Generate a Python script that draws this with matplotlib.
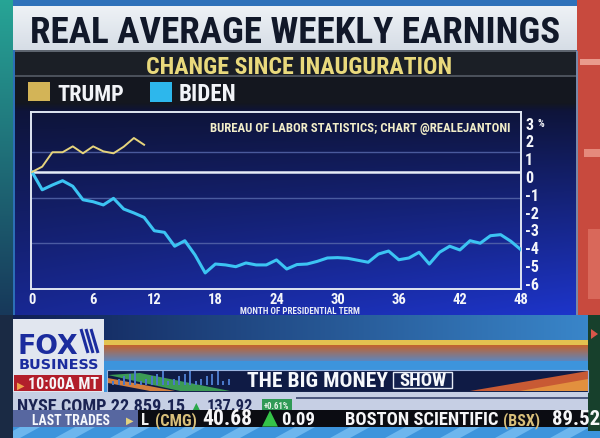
import numpy as np
import matplotlib
matplotlib.use('Agg')
import matplotlib.pyplot as plt
from matplotlib import font_manager as fm
from matplotlib.patches import Rectangle, Polygon
from matplotlib.transforms import ScaledTranslation

# ---------------- data ----------------
months_trump = list(range(12))
trump = [0, 0.30, 1.11, 1.11, 1.44, 1.05, 1.44, 1.16, 1.05, 1.42, 1.91, 1.53]
months_biden = list(range(49))
biden = [0, -1.00, -0.73, -0.49, -0.80, -1.56, -1.67, -1.85, -1.48, -2.08,
         -2.30, -2.55, -3.30, -3.39, -4.17, -3.86, -4.66, -5.67, -5.17, -5.22,
         -5.32, -5.11, -5.22, -5.22, -4.94, -5.45, -5.20, -5.17, -5.02, -4.83,
         -4.81, -4.85, -4.96, -5.07, -4.61, -4.44, -4.93, -4.83, -4.51, -5.17,
         -4.51, -4.17, -4.38, -3.86, -4.00, -3.58, -3.52, -3.89, -4.37]
x_ticks = [0, 6, 12, 18, 24, 30, 36, 42, 48]
y_ticks = [3, 2, 1, 0, -1, -2, -3, -4, -5, -6]
y_tick_labels = ["3", "2", "1", "0", "-1", "-2", "-3", "-4", "-5", "-6"]
grid_levels = [1.1, -1.45, -4.0]
series_names = ["TRUMP", "BIDEN"]
title = "REAL AVERAGE WEEKLY EARNINGS"
subtitle = "CHANGE SINCE INAUGURATION"
source = "BUREAU OF LABOR STATISTICS; CHART @REALEJANTONI"
xlabel = "MONTH OF PRESIDENTIAL TERM"

# ---------------- fonts ----------------
names = {f.name for f in fm.fontManager.ttflist}
if 'Liberation Sans Narrow' in names:
    NARROW = 'Liberation Sans Narrow'
elif 'Roboto Condensed' in names:
    NARROW = 'Roboto Condensed'
else:
    NARROW = 'Roboto'
FAM = [NARROW, 'DejaVu Sans']

W, H = 600, 439
fig = plt.figure(figsize=(6, 4.39), dpi=100)
fig.patch.set_facecolor('#2c6fb6')
bg = fig.add_axes([0, 0, 1, 1])
bg.axis('off')


def hexc(h):
    h = h.lstrip('#')
    return np.array([int(h[i:i + 2], 16) for i in (0, 2, 4)]) / 255.0


def rect(x0, y0, x1, y1, c, z=1, **kw):
    bg.add_patch(Rectangle((x0, y0), x1 - x0, y1 - y0, facecolor=c, lw=0, zorder=z, **kw))


def grad_img(x0, y0, x1, y1, func, z=0.5):
    ys = np.arange(y0, y1) + 0.5
    xs = np.arange(x0, x1) + 0.5
    Y, X = np.meshgrid(ys, xs, indexing='ij')
    img = func(X, Y)
    bg.imshow(np.clip(img, 0, 1), extent=(x0, x1, y1, y0), origin='upper',
              aspect='auto', zorder=z, interpolation='bilinear')


fig.canvas.draw()
R = fig.canvas.get_renderer()


def T(x, y, s, width=None, size=10, color='white', ha='left', va='baseline',
      family=None, weight='bold', z=6, clip=None):
    t = bg.text(x, y, s, fontsize=size, color=color, ha=ha, va=va,
                family=family or FAM, fontweight=weight, zorder=z)
    if width:
        w = t.get_window_extent(renderer=R).width
        t.set_fontsize(size * width / w)
    if clip is not None:
        t.set_clip_path(clip)
    return t


# ---------------- outer photo surroundings ----------------
rect(0, 0, 600, 8, '#2f72ba', z=0.2)
grad_img(0, 0, 13, 316, lambda X, Y: (hexc('#27a596')[None, None, :] * (1 - Y[..., None] / 316)
                                      + hexc('#17385a')[None, None, :] * (Y[..., None] / 316)), z=0.3)
rect(577, 0, 600, 316, '#c84a3e', z=0.3)
rect(580, 60, 600, 66, '#e99a8c', z=0.35)
rect(584, 150, 600, 158, '#e58a7c', z=0.35)
rect(588, 230, 600, 300, '#d9685a', z=0.35)

# title banner
grad_img(13, 7, 577, 51, lambda X, Y: (hexc('#eef2f6')[None, None, :] * (1 - (Y[..., None] - 7) / 44)
                                       + hexc('#d6dde6')[None, None, :] * ((Y[..., None] - 7) / 44)), z=0.5)
# subtitle strip
rect(15, 51, 576, 77, '#1b1f26', z=0.6)
rect(15, 51, 576, 52.5, '#5d646e', z=0.7)
rect(15, 76, 576, 77.5, '#4a505a', z=0.7)


# chart panel gradient
def panel(X, Y):
    leg = hexc('#14171f')
    top = hexc('#0e1439')
    bot = hexc('#182893')
    t = np.clip((Y - 110) / (316 - 110), 0, 1)[..., None]
    u = ((X - 15) / 562)[..., None]
    navy = top * (1 - t) + bot * t + u * t * np.array([0.02, 0.05, 0.22])
    b = np.clip((Y - 104) / 8.0, 0, 1)[..., None]
    return leg * (1 - b) + navy * b


grad_img(15, 77, 577, 316, panel, z=0.6)
rect(576, 52, 578, 316, '#7888a8', z=0.7)

# ---------------- titles & legend ----------------
T(30, 43, title, width=530, size=26, color='#111829', family=[NARROW, 'DejaVu Sans'])
T(146, 74, subtitle, width=306, size=14, color='#e9d97c')
rect(28, 83, 50, 102, '#d3b457', z=2)
rect(150, 83, 172, 103, '#2db7ec', z=2)
T(57, 101, series_names[0], width=67, size=15, color='#f2f4f8')
T(179, 101, series_names[1], width=58, size=15, color='#f2f4f8')
T(210, 132, source, width=301, size=9, color='#f1edc8')
T(240, 314.5, xlabel, width=120, size=5, color='#e8ecf6')

# ---------------- chart ----------------
ax = fig.add_axes([31 / W, 1 - 290 / H, 490 / W, 177 / H])
ax.set_facecolor('none')
ax.set_xlim(-0.1, 48)
ax.set_ylim(-6.573, 3.371)
for v in grid_levels:
    ax.axhline(v, color='#5566aa', lw=1.0, alpha=0.85, zorder=1)
ax.axhline(0, color='#e6ecf7', lw=1.8, zorder=2)
ax.plot(months_biden, biden, color='#3cc4f3', lw=2.2, zorder=4, solid_joinstyle='round')
ax.plot(months_trump, trump, color='#e6d47c', lw=1.4, zorder=4, solid_joinstyle='round')
for s in ax.spines.values():
    s.set_color('#dfe6f2')
    s.set_linewidth(1.4)
ax.yaxis.tick_right()
ax.set_yticks(y_ticks)
ax.set_yticklabels(y_tick_labels)
ax.set_xticks(x_ticks)
ax.set_xticklabels([str(v) for v in x_ticks])
ax.tick_params(axis='y', length=0, pad=3, labelcolor='#f4f6fa', labelsize=11.5)
ax.tick_params(axis='x', length=0, pad=2.5, labelcolor='#f4f6fa', labelsize=10.5)
for lab in ax.get_yticklabels() + ax.get_xticklabels():
    lab.set_fontfamily(FAM)
    lab.set_fontweight('bold')
off = ScaledTranslation(0, -4 / 100, fig.dpi_scale_trans)
for lab in ax.get_yticklabels():
    lab.set_transform(lab.get_transform() + off)
T(537, 127, '%', size=7.5, color='#f4f6fa')

# ---------------- lower broadcast area ----------------
grad_img(0, 316, 600, 341, lambda X, Y: (hexc('#0f1d52')[None, None, :] * (1 - X[..., None] / 600)
                                         + hexc('#3a88cc')[None, None, :] * (X[..., None] / 600)), z=0.5)
rect(0, 341, 600, 346, '#e3c250', z=0.6)
grad_img(0, 346, 600, 362, lambda X, Y: (hexc('#c4622c')[None, None, :] * (1 - (Y[..., None] - 346) / 16)
                                         + hexc('#5d86bd')[None, None, :] * ((Y[..., None] - 346) / 16)), z=0.6)
rect(0, 362, 600, 439, '#3d94dc', z=0.55)
for k in range(12):
    bg.add_patch(Polygon([[k * 55, 439], [k * 55 + 20, 439], [k * 55 + 40, 428], [k * 55 + 20, 428]],
                         closed=True, facecolor='#6cb6ee', lw=0, zorder=0.6))
rect(0, 316, 13, 439, '#1a2a44', z=0.7)
rect(588, 316, 600, 432, '#17402c', z=0.7)
bg.add_patch(Polygon([[591, 330], [598, 335], [591, 340]], closed=True, facecolor='#d8564a', lw=0, zorder=0.8))

# show bar
rect(107, 371, 588, 393, '#0f1b45', z=1)
bg.add_patch(Polygon([[108, 376], [180, 392], [230, 392], [140, 374]], closed=True,
                     facecolor='#3b9a55', lw=0, zorder=1.1))
bg.add_patch(Polygon([[108, 384], [150, 392], [175, 392], [108, 379]], closed=True,
                     facecolor='#d27e3e', lw=0, zorder=1.1))
for i in range(22):
    xx = 112 + i * 5.5
    hh = 4 + (i % 5) * 2.5
    rect(xx, 386 - hh, xx + 2, 386, '#4a78c8', z=1.15)
bg.add_patch(Polygon([[470, 392], [588, 372], [588, 392]], closed=True, facecolor='#c85a34', lw=0, zorder=1.1))
bg.add_patch(Polygon([[520, 392], [588, 380], [588, 392]], closed=True, facecolor='#e2903e', lw=0, zorder=1.12))
bg.add_patch(Rectangle((107, 371), 481, 22, facecolor='none', edgecolor='#9ab4e0', lw=0.8, zorder=1.3))
T(247, 387, 'THE BIG MONEY', width=141, size=14, color='#f6f8fc', z=2)
bg.add_patch(Rectangle((393, 373), 59, 16, facecolor='#13214f', edgecolor='#e6ecf6', lw=1.0, zorder=1.6))
T(399, 386, 'SHOW', width=47, size=11, color='#f6f8fc', z=2)

# Fox logo
rect(13, 320, 104, 393, '#e1e6ef', z=1.5)
T(18, 354, 'FOX', width=61, size=26, color='#1b2c9e', family=['DejaVu Sans'], z=2)
for dx in (0, 5, 10):
    bg.plot([81 + dx, 88 + dx], [330, 354], color='#1b2c9e', lw=2.2, zorder=2, solid_capstyle='butt')
T(19, 369, 'BUSINESS', width=80, size=9, color='#1b2c9e', family=['DejaVu Sans'], z=2)
rect(14, 376, 102, 392, '#b21f2b', z=1.7)
T(17, 389, '\u25B6', size=7, color='#f0a24a', family=['DejaVu Sans'], z=2)
T(28, 389, '10:00A MT', width=71, size=11, color='#f6f6f8', z=2)

# ticker row 1 (cut off by row 2, as in the broadcast)
row1 = Rectangle((13, 393), 575, 18, transform=bg.transData)
rect(13, 393, 588, 411, '#c6cfe4', z=1.5)
T(17, 411, 'NYSE COMP 22,859.15', width=168, size=13, color='#1a2352', z=1.6, clip=row1)
T(191, 411, '\u25B2', size=10, color='#2aa84a', family=['DejaVu Sans'], z=1.6, clip=row1)
T(207, 411, '137.92', width=46, size=13, color='#1a2352', z=1.6, clip=row1)
rect(262, 400, 292, 411, '#2f9a55', z=1.6)
T(264, 409, '+0.61%', width=26, size=6, color='#e8f4ea', z=1.7)
rect(296, 398, 588, 400, '#4e5a80', z=1.6)

# ticker row 2
rect(13, 411, 138, 428, '#5767a0', z=2)
T(32, 425, 'LAST TRADES', width=78, size=12, color='#f6f8fc', z=2.5)
T(126, 424, '\u25B6', size=7, color='#e3d27e', family=['DejaVu Sans'], z=2.5)
rect(138, 411, 588, 428, '#0b0c12', z=2)
T(141, 425, 'L', size=12, color='#f0f0f0', z=2.5)
T(155, 425, '(CMG)', width=42, size=12, color='#d8bf7a', z=2.5)
T(202, 425, '40.68', width=50, size=13, color='#f6f6f8', z=2.5)
T(262, 424, '\u25B2', width=16, size=11, color='#34c348', family=['DejaVu Sans'], z=2.5)
T(281, 425, '0.09', width=34, size=13, color='#f6f6f8', z=2.5)
T(345, 425, 'BOSTON SCIENTIFIC', width=153, size=13, color='#f6f6f8', z=2.5)
T(503, 425, '(BSX)', width=37, size=12, color='#d8bf7a', z=2.5)
clip_r = Rectangle((138, 411), 450, 17, transform=bg.transData)
T(552, 425, '89.52', width=48, size=13, color='#f6f6f8', z=2.5, clip=clip_r)

bg.set_xlim(0, W)
bg.set_ylim(H, 0)
fig.savefig('out.png', dpi=100, facecolor=fig.get_facecolor())
